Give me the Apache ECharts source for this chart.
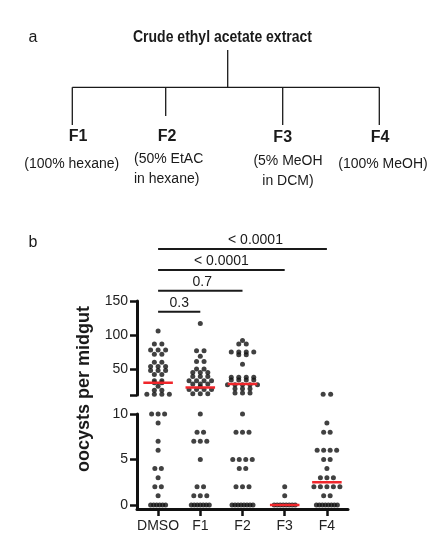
<!DOCTYPE html>
<html><head><meta charset="utf-8">
<script src="https://cdn.jsdelivr.net/npm/echarts@6/dist/echarts.min.js"></script>
<style>html,body{margin:0;padding:0;background:#fff}#c{width:441px;height:550px}</style>
</head><body><div id="c"></div>
<script>
// ---------- data ----------
const categories = ['DMSO', 'F1', 'F2', 'F3', 'F4'];
const dmso = [106, 87, 87, 78, 78, 78, 72, 72, 60, 60, 54, 54, 54, 48, 48, 48, 42, 42, 33, 33, 30, 30, 25, 19, 19, 13, 13, 13, 13,
              10, 10, 10, 9, 7, 6, 4, 4, 3, 2, 2, 1, 0, 0, 0, 0, 0, 0];
const f1 = [117, 77, 77, 69, 61, 61, 50, 50, 45, 45, 45, 39, 39, 39, 33, 33, 33, 33, 28, 28, 28, 24, 20, 20, 20, 20, 14, 14, 14,
            10, 8, 8, 7, 7, 7, 5, 2, 2, 1, 1, 1, 0, 0, 0, 0, 0, 0, 0];
const f2 = [92, 87, 87, 75, 75, 75, 75, 71, 71, 57, 38, 38, 38, 38, 34, 34, 34, 34, 27, 27, 27, 27, 27, 21, 21, 21, 15, 15, 15,
            10, 8, 8, 8, 5, 5, 5, 5, 4, 4, 2, 2, 2, 0, 0, 0, 0, 0, 0, 0, 0];
const f3 = [2, 1, 0, 0, 0, 0, 0, 0, 0, 0];
const f4 = [13, 13, 9, 8, 8, 6, 6, 6, 6, 5, 5, 4, 3, 3, 3, 2, 2, 2, 2, 2, 1, 1, 0, 0, 0, 0, 0, 0, 0, 0];
const medians = [30, 23, 28, 0, 2.5];
const upperTicks = [50, 100, 150];
const lowerTicks = [0, 5, 10];
const pLabels = ['0.3', '0.7', '< 0.0001', '< 0.0001'];
const compareTo = ['F1', 'F2', 'F3', 'F4'];
const treeRoot = 'Crude ethyl acetate extract';
const fractions = ['F1', 'F2', 'F3', 'F4'];
const solvents = ['(100% hexane)', '(50% EtAC\nin hexane)', '(5% MeOH\nin DCM)', '(100% MeOH)'];
const yTitle = 'oocysts per midgut';

// ---------- layout ----------
const FONT = "'Liberation Sans', Arial, Helvetica, sans-serif";
const BREAK = 11;
const GRID_LEFT = 137, GRID_W = 211;
const PX_PER_UNIT = GRID_W / 5;
const groups = [dmso, f1, f2, f3, f4];

function swarm(values, ci) {
  const counts = {};
  values.forEach(v => counts[v] = (counts[v] || 0) + 1);
  const up = [], lo = [];
  Object.keys(counts).forEach(k => {
    const v = +k, n = counts[k];
    const upper = v >= BREAK;
    const sp = n > 5 ? 3 : (upper ? 7.5 : 6.5);
    for (let i = 0; i < n; i++) {
      const off = (i - (n - 1) / 2) * sp / PX_PER_UNIT;
      (upper ? up : lo).push([ci + 1 + off, v]);
    }
  });
  return { up, lo };
}
let upData = [], loData = [];
groups.forEach((g, i) => { const s = swarm(g, i); upData = upData.concat(s.up); loData = loData.concat(s.lo); });

const series = [
  { type: 'scatter', xAxisIndex: 0, yAxisIndex: 0, data: upData, symbolSize: 5, itemStyle: { color: '#111' }, clip: false, silent: true },
  { type: 'scatter', xAxisIndex: 1, yAxisIndex: 1, data: loData, symbolSize: 5, itemStyle: { color: '#111' }, clip: false, silent: true }
];
medians.forEach((m, i) => {
  const upper = m >= BREAK;
  series.push({
    type: 'line', xAxisIndex: upper ? 0 : 1, yAxisIndex: upper ? 0 : 1,
    data: [[i + 1 - 0.35, m], [i + 1 + 0.35, m]], symbol: 'none', z: 5, silent: true,
    lineStyle: { color: '#f0262b', width: 2.5 }, clip: false
  });
});

const axisLineStyle = { show: true, lineStyle: { color: '#111', width: 3 } };
const tickStyle = { show: true, length: 7, lineStyle: { color: '#111', width: 2.5 } };
const labelStyle = { color: '#222', fontSize: 14, fontFamily: FONT };

const chart = echarts.init(document.getElementById('c'), null, { renderer: 'canvas' });
chart.setOption({
  animation: false,
  backgroundColor: '#fff',
  grid: [
    { left: GRID_LEFT, top: 301, width: GRID_W, height: 94 },
    { left: GRID_LEFT, top: 414, width: GRID_W, height: 95 }
  ],
  xAxis: [
    { type: 'value', gridIndex: 0, min: 0.5, max: 5.5, show: false },
    { type: 'value', gridIndex: 1, min: 0.5, max: 5.5, show: false },
    { type: 'category', gridIndex: 1, data: categories, boundaryGap: true, position: 'bottom',
      axisLine: axisLineStyle, axisTick: Object.assign({ alignWithLabel: true, interval: 0 }, tickStyle),
      axisLabel: Object.assign({ margin: 10, interval: 0 }, labelStyle), splitLine: { show: false } }
  ],
  yAxis: [
    { type: 'value', gridIndex: 0, min: 12, max: 150, axisLine: axisLineStyle,
      axisTick: Object.assign({ customValues: [12].concat(upperTicks) }, tickStyle),
      axisLabel: Object.assign({ customValues: upperTicks, margin: 9 }, labelStyle), splitLine: { show: false } },
    { type: 'value', gridIndex: 1, min: -0.45, max: 10, axisLine: axisLineStyle,
      axisTick: Object.assign({ customValues: lowerTicks }, tickStyle),
      axisLabel: Object.assign({ customValues: lowerTicks, margin: 9 }, labelStyle), splitLine: { show: false } }
  ],
  series: series
});

// ---------- annotations ----------
const g = [];
function txt(x, y, text, font, align, extra) {
  return Object.assign({ type: 'text', x: x, y: y, silent: true,
    style: { text: text, font: font, fill: '#1a1a1a', textAlign: align || 'center', align: align || 'center',
             textVerticalAlign: 'middle', verticalAlign: 'middle', lineHeight: 20 } }, extra || {});
}
function line(x1, y1, x2, y2, w) {
  return { type: 'line', silent: true, shape: { x1: x1, y1: y1, x2: x2, y2: y2 }, style: { stroke: '#1a1a1a', lineWidth: w } };
}
// panel letters
g.push(txt(33, 38, 'a', '16px ' + FONT));
g.push(txt(33, 243, 'b', '16px ' + FONT));
// tree title (condensed bold)
const cv = document.createElement('canvas').getContext('2d');
cv.font = 'bold 16px ' + FONT;
const tw = cv.measureText(treeRoot).width;
g.push(txt(222.5, 38, treeRoot, 'bold 16px ' + FONT, 'center', { scaleX: 179 / tw }));
// tree lines
const nodeX = [72.3, 165.7, 282.7, 379.3];
const dropEnd = [125, 116, 125, 125];
g.push(line(227.7, 50, 227.7, 87.3, 1.3));
g.push(line(nodeX[0], 87.3, nodeX[3], 87.3, 1.3));
nodeX.forEach((x, i) => g.push(line(x, 87.3, x, dropEnd[i], 1.3)));
const fracX = [78, 167, 282.7, 380], fracY = [136.7, 136.5, 138, 138];
fractions.forEach((f, i) => g.push(txt(fracX[i], fracY[i], f, 'bold 16px ' + FONT)));
const solX = [71.7, 134, 288, 383], solY = [164.3, 169.2, 171, 164], solAlign = ['center', 'left', 'center', 'center'];
solvents.forEach((s, i) => g.push(txt(solX[i], solY[i], s, '14px ' + FONT, solAlign[i])));
// y title
g.push(txt(84, 389, yTitle, 'bold 18px ' + FONT, 'center', { rotation: Math.PI / 2 }));
// significance brackets
const x0 = chart.convertToPixel({ xAxisIndex: 0 }, 1);
const labelDx = [0, 2, 0, 13];
compareTo.forEach((c, i) => {
  const x1 = chart.convertToPixel({ xAxisIndex: 0 }, categories.indexOf(c) + 1);
  const y = 311.7 - i * 20.9;
  g.push(line(x0, y, x1, y, 2));
  g.push(txt((x0 + x1) / 2 + labelDx[i], y - 8.5, pLabels[i], '14px ' + FONT));
});
chart.setOption({ graphic: g });
</script>
</body></html>
